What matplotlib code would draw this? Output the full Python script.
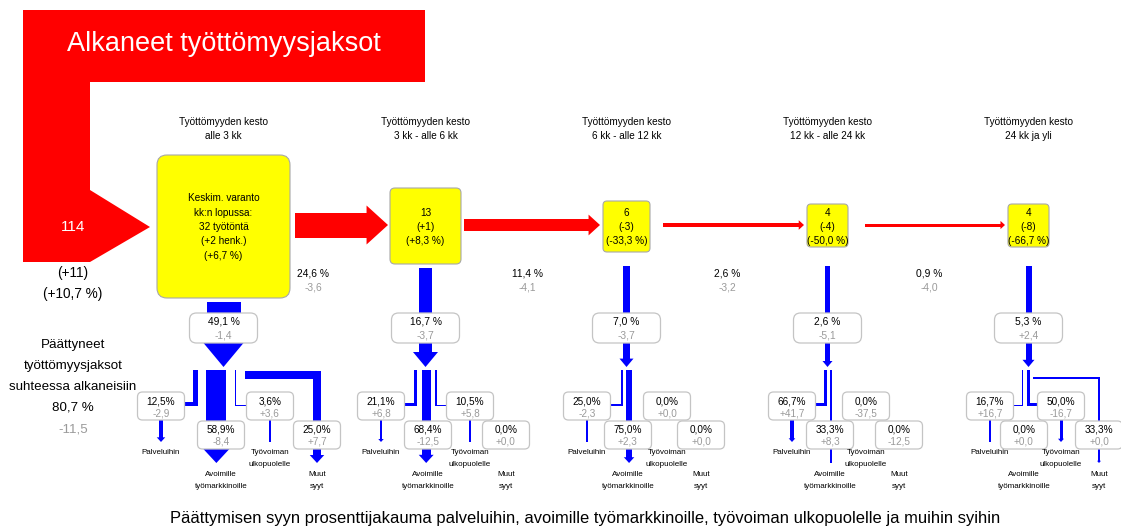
import numpy as np
import matplotlib.pyplot as plt
from matplotlib.patches import Polygon, Rectangle, FancyBboxPatch

plt.rcParams['font.family'] = ['Liberation Sans', 'DejaVu Sans']

# data
durations = ['alle 3 kk', '3 kk - alle 6 kk', '6 kk - alle 12 kk', '12 kk - alle 24 kk', '24 kk ja yli']
stock = [32, 13, 6, 4, 4]
stock_change = [2, 1, -3, -4, -8]
stock_change_pct = [6.7, 8.3, -33.3, -50.0, -66.7]
trans_pct = [24.6, 11.4, 2.6, 0.9]
trans_change = [-3.6, -4.1, -3.2, -4.0]
ended_pct = [49.1, 16.7, 7.0, 2.6, 5.3]
ended_change = [-1.4, -3.7, -3.7, -5.1, 2.4]
reasons = ['Palveluihin', 'Avoimille\ntyömarkkinoille', 'Työvoiman\nulkopuolelle', 'Muut\nsyyt']
reason_pct = [[12.5, 58.9, 3.6, 25.0],
              [21.1, 68.4, 10.5, 0.0],
              [25.0, 75.0, 0.0, 0.0],
              [66.7, 33.3, 0.0, 0.0],
              [16.7, 0.0, 50.0, 33.3]]
reason_change = [[-2.9, -8.4, 3.6, 7.7],
                 [6.8, -12.5, 5.8, 0.0],
                 [-2.3, 2.3, 0.0, 0.0],
                 [41.7, 8.3, -37.5, -12.5],
                 [16.7, 0.0, -16.7, 0.0]]
started = 114
started_change = 11
started_change_pct = 10.7
ended_total_pct = 80.7
ended_total_change = -11.5

# layout (pixels)
box_x = [(157, 290), (390, 461), (603, 650), (807, 848), (1008, 1049)]
box_y = [(155, 298), (188, 264), (201, 252), (204, 247), (204, 247)]
box_r = [10, 5, 4, 4, 4]
arrow_x = [(295, 388), (464, 600), (663, 804), (865, 1005)]
arrow_w = [25, 12, 4, 3]
label_x = [313, 527, 727, 929]
bar_w = [34, 13, 7, 5, 6]
reason_x = [[161, 221, 270, 317],
            [381, 428, 470, 506],
            [587, 628, 667, 701],
            [792, 830, 866, 899],
            [990, 1024, 1061, 1099]]
RED = '#ff0000'
BLUE = '#0000ff'
GREY = '#9a9a9a'
EDGE = '#c4c4c4'


def fmt(v, sign=False):
	s = f'{v:+.1f}' if sign else f'{v:.1f}'
	return s.replace('.', ',')


def rbox(ax, x0, y0, x1, y1, fc='white', ec=EDGE, r=5, lw=0.9, z=3):
	ax.add_patch(FancyBboxPatch((x0, y0), x1-x0, y1-y0, boxstyle=f'round,pad=0,rounding_size={r}',
		fc=fc, ec=ec, lw=lw, zorder=z))


def rect(ax, x0, y0, x1, y1, color=BLUE, z=1):
	ax.add_patch(Rectangle((x0, y0), x1-x0, y1-y0, fc=color, ec='none', zorder=z))


def down_arrow(ax, x, y0, y1, w, hw=None, hk=0.55):
	w = max(w, 1.0)
	if w < 1.9:
		rect(ax, x-w/2, y0, x+w/2, y1)
		return
	if hw is None:
		hw = w + min(w, 6)
	hh = min(hk*hw, y1-y0)
	rect(ax, x-w/2, y0, x+w/2, y1-hh+0.5)
	ax.add_patch(Polygon([(x-hw/2, y1-hh), (x+hw/2, y1-hh), (x, y1)], fc=BLUE, ec='none', zorder=1))


def right_arrow(ax, x0, x1, yc, w):
	hw = 1.4*w + 4
	hl = 0.55*hw
	rect(ax, x0, yc-w/2, x1-hl+0.5, yc+w/2, color=RED)
	ax.add_patch(Polygon([(x1-hl, yc-hw/2), (x1-hl, yc+hw/2), (x1, yc)], fc=RED, ec='none', zorder=1))


fig = plt.figure(figsize=(11.21, 5.26), dpi=100)
ax = fig.add_axes([0, 0, 1, 1])
ax.set_xlim(0, 1121)
ax.set_ylim(526, 0)
ax.axis('off')

# big red inflow shape
ax.add_patch(Polygon([(23, 10), (425, 10), (425, 82), (90, 82), (90, 190), (150, 227), (90, 262), (23, 262)],
	fc=RED, ec='none', zorder=1))
ax.text(224, 44, 'Alkaneet työttömyysjaksot', color='white', fontsize=19.5, ha='center', va='center', zorder=5)
ax.text(73, 227, f'{started}', color='white', fontsize=11, ha='center', va='center', zorder=5)
ax.text(73, 273, f'({started_change:+d})', fontsize=9.8, ha='center', va='center')
ax.text(73, 294, f'({fmt(started_change_pct, True)} %)', fontsize=9.8, ha='center', va='center')

left_lines = ['Päättyneet', 'työttömyysjaksot', 'suhteessa alkaneisiin', f'{fmt(ended_total_pct)} %']
for i, s in enumerate(left_lines):
	ax.text(73, 345 + 21*i, s, fontsize=9.6, ha='center', va='center')
ax.text(73, 430, fmt(ended_total_change, True), fontsize=9.6, color=GREY, ha='center', va='center')

# transitions between duration classes
for i in range(4):
	right_arrow(ax, arrow_x[i][0], arrow_x[i][1], 225, arrow_w[i])
	ax.text(label_x[i], 273, f'{fmt(trans_pct[i])} %', fontsize=7.4, ha='center', va='center')
	ax.text(label_x[i], 287, fmt(trans_change[i], True), fontsize=7.4, color=GREY, ha='center', va='center')

for g in range(5):
	x0, x1 = box_x[g]
	y0, y1 = box_y[g]
	cx = (x0 + x1) / 2

	ax.text(cx, 122, 'Työttömyyden kesto', fontsize=7.2, ha='center', va='center')
	ax.text(cx, 136, durations[g], fontsize=7.2, ha='center', va='center')

	rbox(ax, x0, y0, x1, y1, fc='#ffff00', ec='#a8a8a8', r=box_r[g], lw=0.8)
	if g == 0:
		lines = ['Keskim. varanto', 'kk:n lopussa:', f'{stock[g]} työtöntä',
			f'({stock_change[g]:+d} henk.)', f'({fmt(stock_change_pct[g], True)} %)']
	else:
		lines = [f'{stock[g]}', f'({stock_change[g]:+d})', f'({fmt(stock_change_pct[g], True)} %)']
	for i, s in enumerate(lines):
		ax.text(cx, 227 + 14.3*(i - (len(lines)-1)/2), s, fontsize=7.2, ha='center', va='center', zorder=5)

	# ended flow downwards
	bw = bar_w[g]
	hw = min(bw + min(bw, 12), 40)
	hh = 0.6*hw
	rect(ax, cx-bw/2, max(y1+4, 266), cx+bw/2, 367-hh+0.5)
	ax.add_patch(Polygon([(cx-hw/2, 367-hh), (cx+hw/2, 367-hh), (cx, 367)], fc=BLUE, ec='none', zorder=1))
	rbox(ax, cx-34, 313, cx+34, 343, r=7)
	ax.text(cx, 322, f'{fmt(ended_pct[g])} %', fontsize=7.4, ha='center', va='center', zorder=5)
	ax.text(cx, 336, fmt(ended_change[g], True), fontsize=7.4, color=GREY, ha='center', va='center', zorder=5)

	# split by reason
	pcts = reason_pct[g]
	widths = [p/100*bw for p in pcts]
	nz = [k for k in range(4) if pcts[k] > 0]
	gap = 2 + 0.2*bw
	total = sum(widths[k] for k in nz) + gap*(len(nz)-1)
	xs = {}
	xpos = cx - total/2
	for k in nz:
		xs[k] = xpos
		xpos += widths[k] + gap

	for k in nz:
		w = max(widths[k], 1.0)
		bx = reason_x[g][k]
		a = xs[k]
		if k == 0:
			rect(ax, a, 370, a+w, 406)
			rect(ax, bx+23, 406-w, a+w, 406)
			down_arrow(ax, bx, 420, 442, widths[k])
		elif k == 1:
			rect(ax, a, 370, a+w, 450)
			down_arrow(ax, a+w/2, 449, 463, widths[k])
		elif k == 2:
			rect(ax, a, 370, a+w, 406)
			rect(ax, a, 406-w, bx-23, 406)
			down_arrow(ax, bx, 420, 442, widths[k])
		else:
			rect(ax, a, 379-w, bx+w/2, 379)
			rect(ax, bx-w/2, 379-w, bx+w/2, 422)
			down_arrow(ax, bx, 449, 463, widths[k])

	for k in range(4):
		bx = reason_x[g][k]
		top = 392 if k in (0, 2) else 421
		rbox(ax, bx-23.5, top, bx+23.5, top+28, r=5)
		ax.text(bx, top+9, f'{fmt(pcts[k])}%', fontsize=7.2, ha='center', va='center', zorder=5)
		ax.text(bx, top+21, fmt(reason_change[g][k], True), fontsize=7.2, color=GREY, ha='center', va='center', zorder=5)
		ly = 453 if k in (0, 2) else 475
		for i, s in enumerate(reasons[k].split('\n')):
			ax.text(bx, ly + 11.5*i, s, fontsize=5.8, ha='center', va='center', zorder=5)

ax.text(585, 518, 'Päättymisen syyn prosenttijakauma palveluihin, avoimille työmarkkinoille, työvoiman ulkopuolelle ja muihin syihin',
	fontsize=11.9, ha='center', va='center')

fig.savefig('out.png', dpi=100)
